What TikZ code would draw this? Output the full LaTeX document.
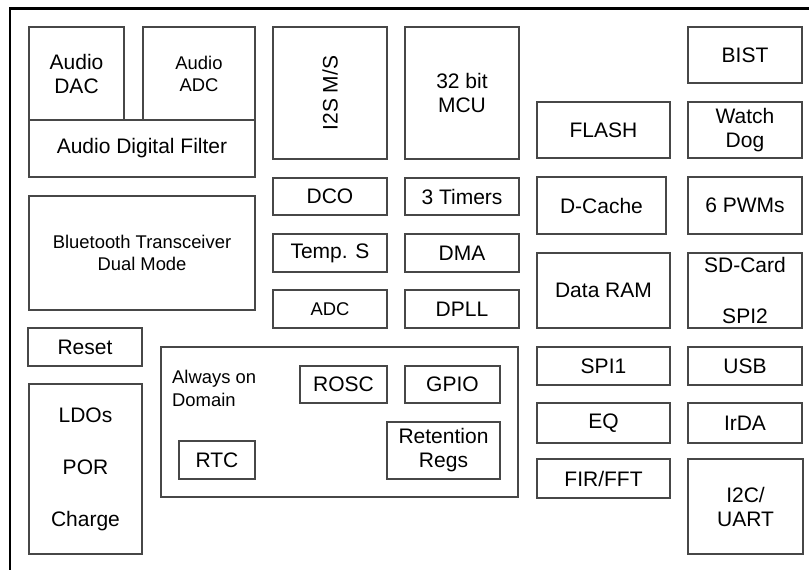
\documentclass[tikz,border=0pt]{standalone}
\usepackage{fontspec}
\setmainfont{Liberation Sans}
\begin{document}
\begin{tikzpicture}[x=1pt,y=-1pt,
  blk/.style={draw=black!72, line width=1.3pt, inner sep=0pt, outer sep=0pt, align=center,
    font=\fontsize{21}{24}\selectfont},
  sm/.style={font=\fontsize{18.4}{22}\selectfont},
  lbl/.style={inner sep=0pt, font=\fontsize{18.4}{22}\selectfont}]
\useasboundingbox (0,0) rectangle (809,570);
\fill[white] (0,0) rectangle (809,570);
% outer frame
\draw[line width=2.6pt] (10,571) -- (10,8.5) -- (810,8.5);
% audio
\node[blk, minimum width=95, minimum height=93] (dac) at (76.5,73.5) {Audio\\DAC};
\node[blk, sm, minimum width=112, minimum height=93] (adcA) at (199,73.5) {Audio\\ADC};
\node[blk, minimum width=226, minimum height=57] (filt) at (142,148.5) {Audio Digital Filter};
\node[blk, sm, minimum width=226, minimum height=114] (bt) at (142,253) {Bluetooth Transceiver\\Dual Mode};
\node[blk, minimum width=114, minimum height=38] (reset) at (85,347) {Reset};
\node[blk, minimum width=113, minimum height=170] (ldo) at (85.5,469) {LDOs\\[28pt]POR\\[28pt]Charge};
% middle
\node[blk, rotate=90, minimum width=132, minimum height=114] (i2s) at (330,93) {I2S M/S};
\node[blk, minimum width=114, minimum height=132] (mcu) at (462,93) {32 bit\\MCU};
\node[blk, minimum width=114, minimum height=37] (dco) at (330,196.5) {DCO};
\node[blk, minimum width=114, minimum height=37] (tim) at (462,196.5) {3 Timers};
\node[blk, minimum width=114, minimum height=38] (temp) at (330,253) {Temp. S};
\node[blk, minimum width=114, minimum height=38] (dma) at (462,253) {DMA};
\node[blk, sm, minimum width=114, minimum height=38] (adc) at (330,309) {ADC};
\node[blk, minimum width=114, minimum height=38] (dpll) at (462,309) {DPLL};
% always on domain
\node[blk, minimum width=357, minimum height=150] (aon) at (339.5,422) {};
\node[lbl, anchor=base west] (aont1) at (172,383) {Always on};
\node[lbl, anchor=base west] (aont2) at (172,406) {Domain};
\node[blk, minimum width=87, minimum height=37] (rosc) at (343.5,384.5) {ROSC};
\node[blk, minimum width=95, minimum height=37] (gpio) at (452.5,384.5) {GPIO};
\node[blk, minimum width=76, minimum height=38] (rtc) at (217,460) {RTC};
\node[blk, minimum width=113, minimum height=57] (ret) at (443.5,450.5) {Retention\\Regs};
% right columns
\node[blk, minimum width=114, minimum height=56] (bist) at (745,55) {BIST};
\node[blk, minimum width=133, minimum height=56] (flash) at (603.5,130) {FLASH};
\node[blk, minimum width=114, minimum height=56] (wdog) at (745,130) {Watch\\Dog};
\node[blk, minimum width=129, minimum height=57] (dcache) at (601.5,205.5) {D-Cache};
\node[blk, minimum width=114, minimum height=57] (pwm) at (745,205.5) {6 PWMs};
\node[blk, minimum width=133, minimum height=75] (ram) at (603.5,290.5) {Data RAM};
\node[blk, minimum width=114, minimum height=75] (sd) at (745,290.5) {SD-Card\\[27pt]SPI2};
\node[blk, minimum width=133, minimum height=38] (spi1) at (603.5,366) {SPI1};
\node[blk, minimum width=114, minimum height=38] (usb) at (745,366) {USB};
\node[blk, minimum width=133, minimum height=40] (eq) at (603.5,423) {EQ};
\node[blk, minimum width=114, minimum height=40] (irda) at (745,423) {IrDA};
\node[blk, minimum width=133, minimum height=39] (fir) at (603.5,478.5) {FIR/FFT};
\node[blk, minimum width=115, minimum height=95] (i2c) at (745.5,506.5) {I2C/\\UART};
\end{tikzpicture}
\end{document}
